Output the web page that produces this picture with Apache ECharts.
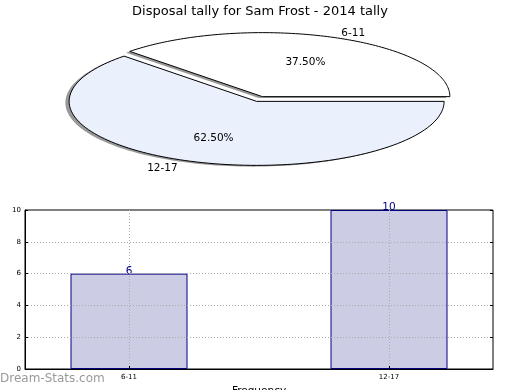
<!DOCTYPE html>
<html><head><meta charset="utf-8">
<script src="https://cdn.jsdelivr.net/npm/echarts@6/dist/echarts.min.js"></script>
<style>html,body{margin:0;padding:0;background:#fff}#c{width:520px;height:390px}</style>
</head><body><div id="c"></div>
<script>
const titleText = 'Disposal tally for Sam Frost - 2014 tally';
const categories = ['6-11', '12-17'];
const values = [6, 10];
const yAxisName = 'Stat Intervals';
const xAxisName = 'Frequency';
const watermark = 'Dream-Stats.com';

const pieColors = ['#ffffff', '#eaf0fc'];
const PIE = {cx: 259.5, cy: 99, rx: 187.5, ry: 64, explode: 0.04, sdx: -0.02, sdy: -0.02};
const FONT = 'DejaVu Sans';
const total = values.reduce((a, b) => a + b, 0);
const catIndex = categories.map((c, i) => i);

function ellipseSlice(ox, oy, a0, a1) {
  const pts = [[ox, oy]];
  const n = 120;
  for (let t = 0; t <= n; t++) {
    const a = a0 + (a1 - a0) * t / n;
    pts.push([ox + PIE.rx * Math.cos(a), oy - PIE.ry * Math.sin(a)]);
  }
  return pts;
}

function renderPie(params, api) {
  const i = params.dataIndex;
  const v = api.value(1);
  let before = 0;
  for (let j = 0; j < i; j++) before += values[j];
  const a0 = before / total * 2 * Math.PI;
  const a1 = (before + v) / total * 2 * Math.PI;
  const am = (a0 + a1) / 2;
  const ox = PIE.cx + PIE.explode * PIE.rx * Math.cos(am);
  const oy = PIE.cy - PIE.explode * PIE.ry * Math.sin(am);
  const c = Math.cos(am), s = Math.sin(am);
  const pct = (v / total * 100).toFixed(2) + '%';
  return {
    type: 'group',
    children: [
      {type: 'polygon', z2: 1,
        shape: {points: ellipseSlice(ox + PIE.sdx * PIE.rx, oy - PIE.sdy * PIE.ry, a0, a1)},
        style: {fill: 'rgba(70,70,70,0.55)', stroke: null}},
      {type: 'polygon', z2: 10,
        shape: {points: ellipseSlice(ox, oy, a0, a1)},
        style: {fill: pieColors[i], stroke: '#000', lineWidth: 1, lineJoin: 'miter'}},
      {type: 'text', z2: 20, x: ox + 0.6 * PIE.rx * c, y: oy - 0.6 * PIE.ry * s + 1,
        style: {text: pct, fill: '#000', fontSize: 10.5, fontFamily: FONT, align: 'center', verticalAlign: 'middle'}},
      {type: 'text', z2: 20, x: ox + 1.1 * PIE.rx * c, y: oy - 1.1 * PIE.ry * s + 1.5,
        style: {text: categories[i], fill: '#000', fontSize: 10.5, fontFamily: FONT, align: c > 0 ? 'left' : 'right', verticalAlign: 'middle'}}
    ]
  };
}

const chart = echarts.init(document.getElementById('c'), null, {renderer: 'canvas'});
chart.setOption({
  animation: false,
  backgroundColor: '#fff',
  textStyle: {fontFamily: FONT},
  title: {text: titleText, left: 'center', top: 0,
    textStyle: {fontSize: 13, fontWeight: 'normal', color: '#000', fontFamily: FONT}},
  grid: {left: 25, right: 27, top: 210, bottom: 21, show: true, borderColor: '#000', borderWidth: 1,
    containLabel: false, outerBoundsMode: 'none'},
  xAxis: {
    type: 'value', min: -0.4, max: 1.4, z: 5,
    name: xAxisName, nameLocation: 'middle', nameGap: 17,
    nameTextStyle: {fontSize: 10.5, color: '#000'},
    axisLine: {show: true, onZero: false, lineStyle: {color: '#000'}},
    axisTick: {show: true, inside: true, length: 3, customValues: catIndex, lineStyle: {color: '#000'}},
    axisLabel: {fontSize: 7, color: '#000', margin: 5, customValues: catIndex,
      formatter: v => categories[Math.round(v)]},
    splitLine: {show: true, customValues: catIndex, lineStyle: {color: '#aaa', type: [1, 2]}}
  },
  yAxis: [{
    type: 'value', min: 0, max: 10, interval: 2, z: 5,
    name: yAxisName, nameLocation: 'middle', nameGap: 16,
    nameTextStyle: {fontSize: 10.5, color: '#000'},
    axisLine: {show: true, onZero: false, lineStyle: {color: '#000'}},
    axisTick: {show: true, inside: true, length: 3, lineStyle: {color: '#000'}},
    axisLabel: {fontSize: 7, color: '#000', margin: 4},
    splitLine: {show: true, showMinLine: false, showMaxLine: false, lineStyle: {color: '#aaa', type: [1, 2]}}
  }, {
    type: 'value', min: 0, max: 10, interval: 2, position: 'right', z: 5,
    axisLine: {show: false, onZero: false}, axisLabel: {show: false}, splitLine: {show: false},
    axisTick: {show: true, inside: true, length: 3, lineStyle: {color: '#000'}}
  }],
  graphic: [{type: 'text', left: 0, top: 373,
    style: {text: watermark, fill: '#999', fontSize: 12, fontFamily: FONT}}],
  series: [{
    type: 'bar', data: values.map((v, i) => [catIndex[i], v]), barWidth: '45%', yAxisIndex: 0,
    itemStyle: {color: '#ccccE4', borderColor: '#000080', borderWidth: 1},
    label: {show: true, position: 'top', distance: -3, color: '#000080', fontSize: 10.5,
      formatter: p => String(p.value[1])}
  }, {
    type: 'custom', coordinateSystem: 'none',
    data: values.map((v, i) => ({name: categories[i], value: [i, v]})),
    renderItem: renderPie
  }]
});
</script>
</body></html>
